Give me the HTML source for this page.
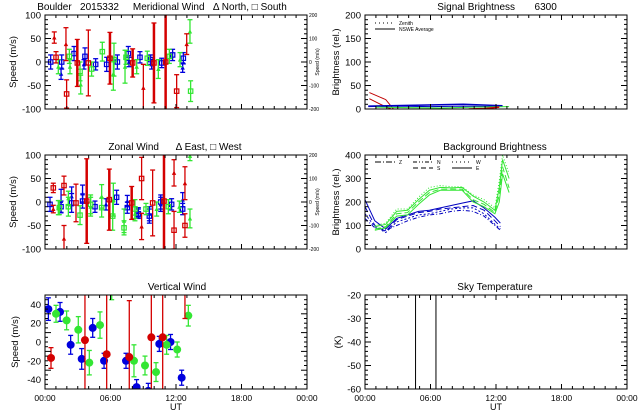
<!DOCTYPE html>
<html><head><meta charset="utf-8"><style>
html,body{margin:0;padding:0;background:#fff;width:640px;height:420px;overflow:hidden;}
svg{display:block;font-family:"Liberation Sans",sans-serif;}
</style></head><body>
<svg id="chart" width="640" height="420" viewBox="0 0 640 420" xmlns="http://www.w3.org/2000/svg"></svg>
<script>
// ---- Meridional wind data ----
const merTime=[0.52,1.53,1.47,2.66,3.66,3.57,4.64,5.65,6.63,7.63,7.69,8.70,9.68,9.77,10.69,11.69,12.67,12.61,
 1.22,2.23,2.29,3.21,3.27,4.27,5.25,6.26,6.32,7.33,7.42,8.40,9.37,10.38,11.39,12.37,13.28,13.34,
 0.85,1.01,1.92,1.98,2.96,3.97,5.95,8.03,9.01,9.98,11.05,12.06,12.98];
const merVal=[0,0,-25,18,12,-5,-5,-5,0,18,0,10,5,-5,-2,15,8,-12,
 -10,12,-10,-20,-48,-15,22,-25,5,-10,10,-10,8,-15,12,5,65,-62,
 52,10,38,-68,-2,-2,8,-2,-55,-2,0,-62,38];
const merErr=[15,15,12,15,18,10,12,15,15,15,10,12,10,10,10,12,12,10,
 15,15,15,20,20,15,20,35,35,35,15,15,15,20,15,15,25,22,
 12,12,35,30,50,70,55,30,50,85,200,35,22];
const merColor=['b','b','b','b','b','b','b','b','b','b','b','b','b','b','b','b','b','b',
 'g','g','g','g','g','g','g','g','g','g','g','g','g','g','g','g','g','g',
 'r','r','r','r','r','r','r','r','r','r','r','r','r'];
const merMarker=['s','s','t','s','s','t','s','s','s','s','t','s','s','t','s','s','s','t',
 't','s','t','s','t','s','s','t','s','t','s','t','s','t','s','t','t','s',
 't','s','t','s','s','s','s','s','t','s','s','s','t'];
const merThick=[0,0,0,0,0,0,0,0,0,0,0,0,0,0,0,0,0,0, 0,0,0,0,0,0,0,0,0,0,0,0,0,0,0,0,0,0,
 0,0,0,0,1,0,1,1,0,1,1,0,0];

// ---- Zonal wind data ----
const zonTime=[0.46,1.47,1.47,2.44,2.44,3.44,3.44,4.58,5.59,6.56,7.54,7.54,8.55,8.55,9.56,9.56,10.60,10.60,11.60,12.61,12.61,
 1.22,1.31,2.14,2.14,3.21,4.18,4.18,5.19,5.19,6.20,6.26,7.24,7.24,8.24,8.24,9.25,10.23,11.30,12.31,13.28,13.28,
 0.76,0.76,1.74,1.74,2.84,3.82,5.89,7.94,8.85,8.85,9.86,10.90,11.82,11.82,12.82,12.82];
const zonVal=[-5,2,-10,-2,12,18,2,-10,-5,10,2,-12,-25,-22,-25,-30,-5,0,-5,5,-15,
 -12,-12,8,-10,-28,-10,-5,12,-12,-30,5,-40,-55,-15,-25,-15,-15,-10,-10,98,-35,
 30,-15,-78,35,-2,2,5,-2,50,-52,-2,2,62,-60,40,-50];
const zonErr=[15,25,12,20,20,18,15,12,12,15,12,12,10,10,15,15,15,15,12,15,12,
 15,15,15,20,20,20,20,25,20,30,35,25,15,20,15,12,15,15,12,10,20,
 10,8,28,20,40,90,65,35,45,28,70,200,28,40,35,25];
const zonColor=['b','b','b','b','b','b','b','b','b','b','b','b','b','b','b','b','b','b','b','b','b',
 'g','g','g','g','g','g','g','g','g','g','g','g','g','g','g','g','g','g','g','g','g',
 'r','r','r','r','r','r','r','r','r','r','r','r','r','r','r','r'];
const zonMarker=['s','t','s','s','t','t','s','s','t','s','t','s','s','t','t','s','t','s','s','t','s',
 't','s','t','s','s','t','s','t','s','s','t','t','s','s','t','s','t','s','t','t','t',
 's','t','t','s','s','s','s','s','s','t','s','s','t','s','t','s'];
const zonThick=[0,0,0,0,0,0,0,0,0,0,0,0,0,0,0,0,0,0,0,0,0, 0,0,0,0,0,0,0,0,0,0,0,0,0,0,0,0,0,0,0,0,0,
 0,0,0,0,0,1,1,1,0,0,0,1,0,0,0,0];

// ---- Vertical wind data ----
const verTime=[0.31,1.38,2.35,3.36,4.37,5.41,7.42,8.39,9.46,10.47,11.50,12.52,
 1.01,1.98,3.05,4.06,5.04,6.11,8.15,9.16,10.17,11.14,12.11,13.13,
 0.55,3.66,5.65,7.72,9.74,10.78,12.82];
const verVal=[35,32,-3,-18,15,-20,-20,-48,-52,-2,0,-38,
 30,23,13,-22,18,55,-20,-25,-32,-3,-8,28,
 -17,2,-13,-16,5,5,60];
const verErr=[12,10,10,11,10,8,8,8,8,8,8,8,
 9,10,14,13,14,10,17,10,10,10,8,11,
 11,200,200,60,200,200,35];
const verColor=['b','b','b','b','b','b','b','b','b','b','b','b',
 'g','g','g','g','g','g','g','g','g','g','g','g',
 'r','r','r','r','r','r','r'];

// ---- Signal brightness data ----
const sigRedT=[0.4,1.9,2.6]; const sigRedV=[35,20,0];
const sigRed2T=[0.4,1.6,2.4]; const sigRed2V=[22,8,0];
const sigBlueT=[0.3,4.6,9.0,12.6]; const sigBlueV=[6,8,10,7];
const sigBlue2T=[0.3,3.0,6.0,9.0,12.3]; const sigBlue2V=[5,6,5,6,5];
const sigGreenT=[1.0,4.0,7.0,10.0,13.2]; const sigGreenV=[4,3,2,4,5];
const sigRed3T=[9.5,11.0,12.3]; const sigRed3V=[0,1,4];

// ---- Background brightness data ----
const bgT=[0.0,0.9,1.9,2.9,3.9,4.9,5.9,6.9,7.9,8.9,9.9,10.9,11.9,12.4];
const bgBlue1=[210,120,85,130,145,160,165,175,185,195,205,175,135,110];
const bgBlue2=[180,100,75,125,140,155,160,170,175,180,185,165,120,95];
const bgBlue3=[150,95,70,115,130,145,150,160,170,175,175,150,105,85];
const bgBlue4=[130,90,80,100,120,135,145,150,160,165,160,140,100,80];
const bgGT=[0.9,1.9,2.9,3.9,4.9,5.9,6.9,7.9,8.9,9.9,10.9,11.9,12.3,12.6,13.2];
const bgGreen1=[100,110,170,170,220,262,270,265,265,230,210,175,290,400,320];
const bgGreen2=[95,105,160,165,210,250,262,260,262,225,200,165,260,380,300];
const bgGreen3=[85,95,150,155,200,240,255,255,255,210,190,155,230,350,260];
const bgGreen4=[80,90,140,145,190,230,250,250,250,200,180,150,200,320,240];

// ---- Sky temperature ----
const skyLineT=[4.63,6.5];

// tick labels
const xTickLabels=['00:00','06:00','12:00','18:00','00:00'];
const windTicks=[100,50,0,-50,-100];
const windRightTicks=['200','100','0','-100','-200'];
const vertTicks=[40,20,0,-20,-40];
const sigTicks=[0,50,100,150,200];
const bgTicks=[0,100,200,300,400];
const skyTicks=[-20,-30,-40,-50,-60];

const NS='http://www.w3.org/2000/svg';
const svg=document.getElementById('chart');
const COL={r:'#d40000',g:'#33e633',b:'#0000dd'};
function mk(tag,attrs,parent){const e=document.createElementNS(NS,tag);for(const k in attrs)e.setAttribute(k,attrs[k]);(parent||svg).appendChild(e);return e;}
function txt(s,x,y,size,anchor,parent,rot){const t=mk('text',{x:x,y:y,'font-size':size,'text-anchor':anchor||'middle',fill:'#000'},parent);if(rot)t.setAttribute('transform','rotate(-90 '+x+' '+y+')');t.textContent=s;return t;}

function panel(name,x0,y0,x1,y1,ymin,ymax,yticks,ystep,minorY,opts){
  const g=mk('g',{});
  
  
  const xs=h=>x0+(h/24)*(x1-x0);
  const ys=v=>y1-(v-ymin)/(ymax-ymin)*(y1-y0);
  const cid='clip-'+name;
  const cp=mk('clipPath',{id:cid},g);mk('rect',{x:x0,y:y0,width:x1-x0,height:y1-y0},cp);
  const plot=mk('g',{'clip-path':'url(#'+cid+')'},g);
  
  
  const box=mk('rect',{x:x0,y:y0,width:x1-x0,height:y1-y0,fill:'none',stroke:'#000','stroke-width':1},g);
  
  
  const ax=mk('g',{stroke:'#000','stroke-width':1},g);
  
  
  for(let h=0;h<=24;h++){const x=xs(h);const L=(h%6==0)?5:3;
    mk('line',{x1:x,y1:y1,x2:x,y2:y1-L},ax);mk('line',{x1:x,y1:y0,x2:x,y2:y0+L},ax);}
  for(let v=ymin;v<=ymax+1e-9;v+=minorY){const y=ys(v);const major=Math.abs(((v-ymin)/ystep)-Math.round((v-ymin)/ystep))<1e-6;const L=major?6:3;
    mk('line',{x1:x0,y1:y,x2:x0+L,y2:y},ax);mk('line',{x1:x1,y1:y,x2:x1-L,y2:y},ax);}
  const lab=mk('g',{},g);
  
  
  yticks.forEach(v=>txt(String(v),x0-4,ys(v)+3.5,9.5,'end',lab));
  if(opts.xlabels){const xl=mk('g',{},g);
    
    
    xTickLabels.forEach((s,i)=>txt(s,xs(i*6),y1+12,8.5,'middle',xl));
    const ut=txt('UT',(x0+x1)/2,y1+21,9,'middle',g);
    
    }
  return {g,plot,xs,ys,y0,y1};
}

function errbars(p,T,V,E,C,M,TH,circle){
  const cl=y=>Math.max(p.y0-6,Math.min(p.y1+6,y));
  for(let i=0;i<T.length;i++){
    const x=p.xs(T[i]),y=p.ys(V[i]),yt=p.ys(V[i]+E[i]),yb=p.ys(V[i]-E[i]);
    const c=COL[C[i]];const w=TH&&TH[i]?2.5:1.3;
    const eg=mk('g',{},p.plot);
    
    
    mk('line',{x1:x,y1:cl(yt),x2:x,y2:cl(yb),stroke:c,'stroke-width':w},eg);
    mk('line',{x1:x-2.5,y1:cl(yt),x2:x+2.5,y2:cl(yt),stroke:c,'stroke-width':1.3},eg);
    mk('line',{x1:x-2.5,y1:cl(yb),x2:x+2.5,y2:cl(yb),stroke:c,'stroke-width':1.3},eg);
    const ym=cl(y);
    if(circle){mk('circle',{cx:x,cy:ym,r:4,fill:c},eg);}
    else if(M[i]=='s'){mk('rect',{x:x-2.2,y:ym-2.2,width:4.4,height:4.4,fill:'none',stroke:c,'stroke-width':1.2},eg);}
    else{mk('polygon',{points:(x-2.2)+','+(ym+2)+' '+(x+2.2)+','+(ym+2)+' '+x+','+(ym-2.2),fill:c},eg);}
  }
}
function line(p,T,V,color,dash,w,name){
  const pts=T.map((t,i)=>p.xs(t)+','+p.ys(V[i])).join(' ');
  const l=mk('polyline',{points:pts,fill:'none',stroke:color,'stroke-width':w||1},p.plot);
  if(dash)l.setAttribute('stroke-dasharray',dash);
  
  
}
function rightAxis(p,x,y0,name){
  const g=mk('g',{},p.g);
  
  
  windRightTicks.forEach((s,i)=>txt(s,x+2,p.ys(windTicks[i])+2,5,'start',g));
  txt('Speed (m/s)',x+12,y0,5,'middle',g,true);
}

// Meridional
const pm=panel('meridional-wind-panel',45,15,307,109,-100,100,windTicks,50,10,{});
errbars(pm,merTime,merVal,merErr,merColor,merMarker,merThick,false);
rightAxis(pm,307,62,'meridional-right-axis');
let t=txt('Speed (m/s)',16,62,9.5,'middle',pm.g,true);
t=txt('Boulder   2015332     Meridional Wind   \u0394 North, \u25A1 South',162,10,10,'middle');t.style.whiteSpace='pre';

// Zonal
const pz=panel('zonal-wind-panel',45,155,307,249,-100,100,windTicks,50,10,{});
errbars(pz,zonTime,zonVal,zonErr,zonColor,zonMarker,zonThick,false);
rightAxis(pz,307,202,'zonal-right-axis');
t=txt('Speed (m/s)',16,202,9.5,'middle',pz.g,true);
t=txt('Zonal Wind      \u0394 East, \u25A1 West',175,150,10,'middle');t.style.whiteSpace='pre';

// Vertical
const pv=panel('vertical-wind-panel',45,295,307,389,-50,50,vertTicks,20,5,{xlabels:true});
errbars(pv,verTime,verVal,verErr,verColor,null,null,true);
t=txt('Speed (m/s)',18,342,9.5,'middle',pv.g,true);
t=txt('Vertical Wind',177,290,10,'middle');

// Signal brightness
const ps=panel('signal-brightness-panel',365,15,627,109,0,200,sigTicks,50,10,{});
line(ps,sigRedT,sigRedV,'#c00000',null,1,'signal-red-zenith');
line(ps,sigRed2T,sigRed2V,'#c00000',null,1,'signal-red-avg');
line(ps,sigBlueT,sigBlueV,'#0000c0',null,1.5,'signal-blue-avg');
line(ps,sigBlue2T,sigBlue2V,'#0000c0',null,1,'signal-blue-zenith');
line(ps,sigGreenT,sigGreenV,'#33e633',null,1,'signal-green');
line(ps,sigRed3T,sigRed3V,'#d40000',null,1.5,'signal-red-late');
t=txt('Brightness (rel.)',339,62,9.5,'middle',ps.g,true);
t=txt('Signal Brightness       6300',497,10,10,'middle');t.style.whiteSpace='pre';
let lg=mk('g',{});
mk('line',{x1:375,y1:23,x2:395,y2:23,stroke:'#000','stroke-dasharray':'1,3'},lg);
mk('line',{x1:375,y1:29,x2:395,y2:29,stroke:'#000'},lg);
txt('Zenith',399,25,5,'start',lg);txt('NSWE Average',399,31,5,'start',lg);

// Background brightness
const pb=panel('background-brightness-panel',365,155,627,249,0,400,bgTicks,100,20,{});
line(pb,bgT,bgBlue1,'#0000c0',null,1,'bg-blue-z');
line(pb,bgT,bgBlue2,'#0000c0','6,3',1,'bg-blue-n');
line(pb,bgT,bgBlue3,'#0000c0','2,2',1,'bg-blue-w');
line(pb,bgT,bgBlue4,'#0000c0','4,2,1,2',1,'bg-blue-e');
line(pb,bgGT,bgGreen1,'#33e633','1,2',1,'bg-green-z');
line(pb,bgGT,bgGreen2,'#33e633',null,1,'bg-green-n');
line(pb,bgGT,bgGreen3,'#33e633','6,3',1,'bg-green-s');
line(pb,bgGT,bgGreen4,'#33e633',null,1,'bg-green-e');
t=txt('Brightness (rel.)',339,202,9.5,'middle',pb.g,true);
t=txt('Background Brightness',495,150,10,'middle');
lg=mk('g',{});
mk('line',{x1:375,y1:162,x2:395,y2:162,stroke:'#000','stroke-dasharray':'6,2,1,2'},lg);txt('Z',399,164,5,'start',lg);
mk('line',{x1:413,y1:162,x2:433,y2:162,stroke:'#000','stroke-dasharray':'4,2,1,2,1,2'},lg);txt('N',437,164,5,'start',lg);
mk('line',{x1:413,y1:168,x2:433,y2:168,stroke:'#000','stroke-dasharray':'5,3'},lg);txt('S',437,170,5,'start',lg);
mk('line',{x1:452,y1:162,x2:472,y2:162,stroke:'#000','stroke-dasharray':'1,3'},lg);txt('W',476,164,5,'start',lg);
mk('line',{x1:452,y1:168,x2:472,y2:168,stroke:'#000'},lg);txt('E',476,170,5,'start',lg);

// Sky temperature
const pk=panel('sky-temperature-panel',365,295,627,389,-60,-20,skyTicks,10,2,{xlabels:true});
skyLineT.forEach((h,i)=>{const l=mk('line',{x1:pk.xs(h),y1:295,x2:pk.xs(h),y2:389,stroke:'#000','stroke-width':1},pk.plot);
  
  });
t=txt('(K)',341,342,9.5,'middle',pk.g,true);
t=txt('Sky Temperature',495,290,10,'middle');
</script>
</body></html>
